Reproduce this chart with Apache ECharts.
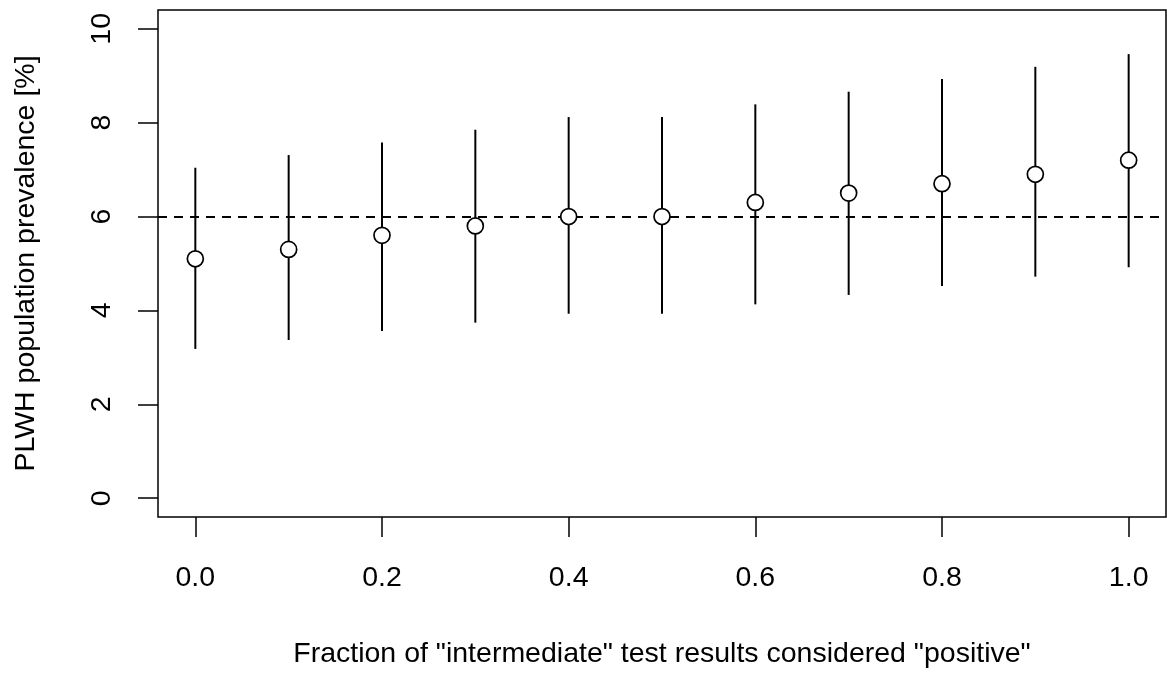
<!DOCTYPE html>
<html>
<head>
<meta charset="utf-8">
<script src="https://cdn.jsdelivr.net/npm/echarts@6/dist/echarts.min.js"></script>
<style>
  html, body { margin: 0; padding: 0; background: #fff; }
  #container { width: 1167px; height: 674px; }
</style>
</head>
<body>
<div id="container"></div>
<script>
// fraction of intermediate results counted as positive
var fractions = [0.0, 0.1, 0.2, 0.3, 0.4, 0.5, 0.6, 0.7, 0.8, 0.9, 1.0];
// prevalence estimate and interval ends
var estimate = [5.1, 5.3, 5.6, 5.8, 6.0, 6.0, 6.3, 6.5, 6.7, 6.9, 7.2];
var lower = [3.18, 3.37, 3.56, 3.74, 3.93, 3.93, 4.13, 4.33, 4.52, 4.72, 4.92];
var upper = [7.04, 7.31, 7.58, 7.85, 8.12, 8.12, 8.39, 8.66, 8.93, 9.19, 9.46];
var referenceLine = 6;
var xTicks = [0, 0.2, 0.4, 0.6, 0.8, 1.0];
var yTicks = [0, 2, 4, 6, 8, 10];

var font = 'Liberation Sans, Arial, sans-serif';
var dom = document.getElementById('container');
var myChart = echarts.init(dom, null, { renderer: 'canvas' });

var barData = fractions.map(function (f, i) {
    return [f, lower[i], upper[i]];
});
var pointData = fractions.map(function (f, i) {
    return [f, estimate[i]];
});

myChart.setOption({
    animation: false,
    backgroundColor: '#fff',
    grid: {
        left: 158, right: 1, top: 10, bottom: 153,
        show: true, borderColor: '#000', borderWidth: 1.5,
        backgroundColor: 'transparent'
    },
    xAxis: {
        type: 'value',
        min: -0.04, max: 1.04,
        axisLine: { show: false, onZero: false },
        splitLine: { show: false },
        axisTick: {
            show: true, length: 20, inside: false,
            customValues: xTicks,
            lineStyle: { color: '#000', width: 1.5 }
        },
        axisLabel: {
            customValues: xTicks,
            margin: 47,
            color: '#000', fontSize: 28.5, fontFamily: font,
            formatter: function (v) { return v.toFixed(1); }
        },
        name: 'Fraction of "intermediate" test results considered "positive"',
        nameLocation: 'middle',
        nameGap: 123,
        nameTextStyle: { color: '#000', fontSize: 28.5, fontFamily: font }
    },
    yAxis: {
        type: 'value',
        min: -0.4, max: 10.4,
        axisLine: { show: false, onZero: false },
        splitLine: { show: false },
        axisTick: {
            show: true, length: 20, inside: false,
            customValues: yTicks,
            lineStyle: { color: '#000', width: 1.5 }
        },
        axisLabel: {
            customValues: yTicks,
            margin: 56,
            rotate: 90,
            color: '#000', fontSize: 28.5, fontFamily: font,
            verticalAlign: 'middle', align: 'center'
        },
        name: 'PLWH population prevalence [%]',
        nameLocation: 'middle',
        nameGap: 117,
        nameRotate: 90,
        nameTextStyle: { color: '#000', fontSize: 28.5, fontFamily: font }
    },
    series: [
        {
            // vertical interval bars
            type: 'custom',
            data: barData,
            encode: { x: 0, y: [1, 2] },
            z: 2,
            renderItem: function (params, api) {
                var lo = api.coord([api.value(0), api.value(1)]);
                var hi = api.coord([api.value(0), api.value(2)]);
                return {
                    type: 'line',
                    shape: { x1: lo[0], y1: lo[1], x2: hi[0], y2: hi[1] },
                    style: { stroke: '#000', lineWidth: 2 }
                };
            }
        },
        {
            type: 'scatter',
            data: pointData,
            symbol: 'circle',
            symbolSize: 16,
            z: 3,
            itemStyle: { color: '#fff', borderColor: '#000', borderWidth: 1.7, opacity: 1 },
            markLine: {
                silent: true,
                symbol: ['none', 'none'],
                label: { show: false },
                z: 1,
                lineStyle: { color: '#000', type: [9, 7], width: 1.8 },
                data: [{ yAxis: referenceLine }]
            }
        }
    ]
});
</script>
</body>
</html>
